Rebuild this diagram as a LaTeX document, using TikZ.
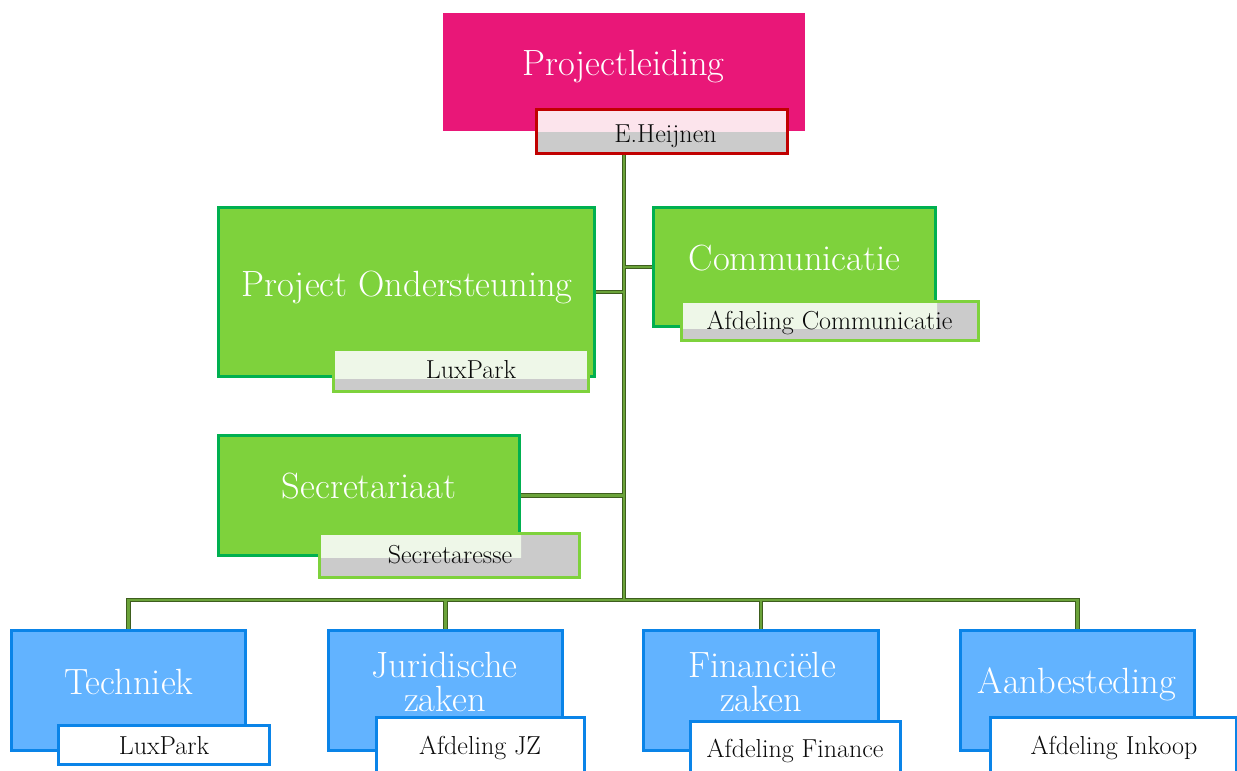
\documentclass[tikz,border=0pt]{standalone}
\usetikzlibrary{backgrounds}
\definecolor{pmag}{HTML}{E91778}
\definecolor{dred}{HTML}{C00000}
\definecolor{pinktint}{HTML}{FCE4EC}
\definecolor{lgray}{HTML}{CBCBCB}
\definecolor{gfill}{HTML}{7ED23C}
\definecolor{gborder}{HTML}{00B050}
\definecolor{gtint}{HTML}{EEF7E8}
\definecolor{bfill}{HTML}{62B3FF}
\definecolor{bborder}{HTML}{0A84E8}
\definecolor{condark}{HTML}{3E5E1E}
\definecolor{congreen}{HTML}{6BA33A}
\definecolor{labblack}{HTML}{0A0A0A}
\newcommand\myconnectors[1]{%
  \draw[#1] (trunktop) -- (busc);
  \draw[#1] (po.east) -- (po.east -| trunktop);
  \draw[#1] (com.west) -- (com.west -| trunktop);
  \draw[#1] (sec.east) -- (sec.east -| trunktop);
  \draw[#1] (tech.north) -- (tech.north |- busc) -- (aanb.north |- busc) -- (aanb.north);
  \draw[#1] (jz.north) -- (jz.north |- busc);
  \draw[#1] (fin.north) -- (fin.north |- busc);
}
\newcommand\tintlabel[6]{% name, parent, center, w, h, tint
  \node[rectangle, inner sep=0pt, minimum width=#4, minimum height=#5, fill=lgray] (#1) at #3 {};
  \begin{scope}
    \clip (#2.south west) rectangle (#2.north east);
    \fill[#6] (#1.south west) rectangle (#1.north east);
  \end{scope}
}
\begin{document}
\begin{tikzpicture}[x=1pt,y=-1pt,
  box/.style={rectangle, inner sep=0pt, line width=3pt},
  gbox/.style={box, fill=gfill, draw=gborder},
  bbox/.style={box, fill=bfill, draw=bborder},
  wlab/.style={box, fill=white, draw=bborder},
  maintext/.style={text=white, font=\fontsize{36.5}{38}\selectfont, inner sep=0pt, anchor=base},
  labtext/.style={text=labblack, font=\fontsize{26}{28}\selectfont, inner sep=0pt, anchor=base},
  conout/.style={draw=condark, line width=4.6pt},
  conin/.style={draw=congreen, line width=2.6pt},
]
\useasboundingbox (0,0) rectangle (1237,771);
\coordinate (trunktop) at (624,150);
\coordinate (busc) at (624,600);

% Projectleiding
\node[rectangle, inner sep=0pt, minimum width=362, minimum height=118, fill=pmag] (pl) at (624,72) {};
\node[maintext] (plT) at (623.5,75) {Projectleiding};
\tintlabel{heij}{pl}{(662,131.5)}{251}{44}{pinktint}
\draw[line width=3pt, draw=dred] (heij.south west) rectangle (heij.north east);
\node[labtext] (heijT) at (665.5,142) {E.Heijnen};

% Project Ondersteuning
\node[gbox, minimum width=376, minimum height=169] (po) at (406.5,292) {};
\node[maintext] (poT) at (407,296) {Project Ondersteuning};
\tintlabel{lp1}{po}{(461,370.5)}{255}{42}{gtint}
\draw[line width=3pt, draw=gfill] (lp1.south west) rectangle (lp1.north east);
\node[labtext] (lp1T) at (471,378) {LuxPark};

% Communicatie
\node[gbox, minimum width=282, minimum height=119] (com) at (794.5,267) {};
\node[maintext] (comT) at (794.5,270) {Communicatie};
\tintlabel{acom}{com}{(830,321)}{297}{39}{gtint}
\draw[line width=3pt, draw=gfill] (acom.south west) rectangle (acom.north east);
\node[labtext] (acomT) at (829.5,329) {Afdeling Communicatie};

% Secretariaat
\node[gbox, minimum width=301, minimum height=120] (sec) at (369,495.5) {};
\node[maintext] (secT) at (369,498) {Secretariaat};
\tintlabel{secr}{sec}{(449.5,555.5)}{260}{44}{gtint}
\draw[line width=3pt, draw=gfill] (secr.south west) rectangle (secr.north east);
\node[labtext] (secrT) at (450,563) {Secretaresse};

% Bottom row
\node[bbox, minimum width=234, minimum height=120] (tech) at (128.5,690.5) {};
\node[maintext] (techT) at (129,694) {Techniek};
\node[wlab, minimum width=211, minimum height=39] (lp2) at (164,745) {};
\node[labtext] (lp2T) at (164,754) {LuxPark};

\node[bbox, minimum width=234, minimum height=120] (jz) at (445.5,690.5) {};
\node[maintext] (jzT1) at (444.5,677) {Juridische};
\node[maintext] (jzT2) at (445,711) {zaken};
\node[wlab, minimum width=208, minimum height=61] (ajz) at (480.5,748) {};
\node[labtext] (ajzT) at (480,754) {Afdeling JZ};

\node[bbox, minimum width=235, minimum height=120] (fin) at (761,690.5) {};
\node[maintext] (finT1) at (762,677) {Financiële};
\node[maintext] (finT2) at (761,711) {zaken};
\node[wlab, minimum width=210, minimum height=58] (afin) at (795.5,750) {};
\node[labtext] (afinT) at (795,757) {Afdeling Finance};

\node[bbox, minimum width=234, minimum height=120] (aanb) at (1077.5,690.5) {};
\node[maintext] (aanbT) at (1077,693) {Aanbesteding};
\node[wlab, minimum width=246, minimum height=61] (ainkoop) at (1113.5,748) {};
\node[labtext] (ainkoopT) at (1114,754) {Afdeling Inkoop};

\begin{pgfonlayer}{background}
  \fill[white] (0,0) rectangle (1237,771);
  \myconnectors{conout}
  \myconnectors{conin}
\end{pgfonlayer}
\end{tikzpicture}
\end{document}
